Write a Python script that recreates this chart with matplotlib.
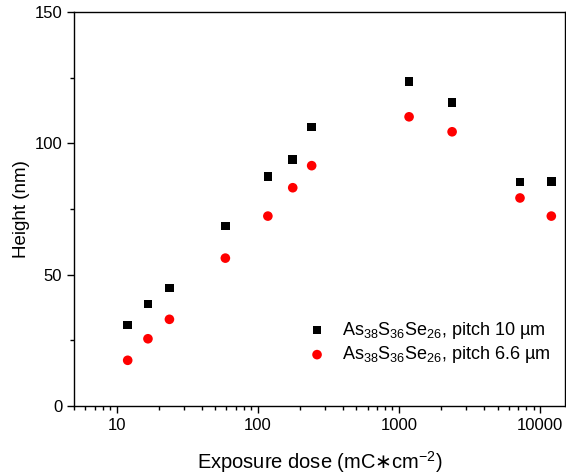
import matplotlib
matplotlib.use('Agg')
import matplotlib.pyplot as plt
from matplotlib.ticker import LogLocator, MultipleLocator, FixedLocator, NullFormatter
import matplotlib as mpl

mpl.rcParams.update({'font.family': ['Liberation Sans', 'DejaVu Sans'],
                     'mathtext.fontset': 'custom',
                     'mathtext.rm': 'Liberation Sans',
                     'mathtext.it': 'Liberation Sans:italic',
                     'mathtext.bf': 'Liberation Sans:bold',
                     'mathtext.sf': 'DejaVu Sans'})

# exposure dose (mC/cm^2)
dose = [12, 16.7, 23.7, 59, 118, 177, 241, 1180, 2380, 7200, 12000]
# height for pitch 10 um
height_10 = [30.8, 38.9, 44.9, 68.6, 87.4, 93.9, 106.2, 123.6, 115.6, 85.2, 85.5]
# height for pitch 6.6 um
height_66 = [17.4, 25.6, 33.0, 56.3, 72.3, 83.1, 91.5, 110.1, 104.4, 79.2, 72.3]

label_10 = r'As$_{38}$S$_{36}$Se$_{26}$, pitch 10 µm'
label_66 = r'As$_{38}$S$_{36}$Se$_{26}$, pitch 6.6 µm'

fig = plt.figure(figsize=(5.66, 4.76), dpi=100)
ax = fig.add_axes([74 / 566, 1 - 406 / 476, (565 - 74) / 566, (406 - 12) / 476])

ax.scatter(dose, height_10, marker='s', s=38, color='black', edgecolors='none', label=label_10, zorder=3)
ax.scatter(dose, height_66, marker='o', s=48, color='red', edgecolors='none', label=label_66, zorder=3)

ax.set_xscale('log')
ax.set_xlim(5, 15000)
ax.set_ylim(0, 150)

ax.xaxis.set_major_locator(FixedLocator([10, 100, 1000, 10000]))
ax.xaxis.set_minor_locator(LogLocator(base=10, subs=range(2, 10), numticks=20))
ax.xaxis.set_minor_formatter(NullFormatter())
ax.set_xticklabels(['10', '100', '1000', '10000'])
ax.yaxis.set_major_locator(MultipleLocator(50))
ax.yaxis.set_minor_locator(MultipleLocator(25))

ax.tick_params(which='major', direction='out', length=5, width=1, labelsize=12, top=False, right=False)
ax.tick_params(which='minor', direction='out', length=3, width=1, top=False, right=False)
for sp in ax.spines.values():
    sp.set_linewidth(1.0)

ax.set_xlabel(r'Exposure dose (mC$\mathsf{\ast}$cm$^{-2}$)', fontsize=14.5, labelpad=12)
ax.set_ylabel('Height (nm)', fontsize=13.5, labelpad=3)

ax.legend(loc='center left', bbox_to_anchor=(0.4766, 0.161), frameon=False, fontsize=13,
          borderpad=0, borderaxespad=0, handlelength=1.0, handletextpad=0.89,
          labelspacing=0.2, scatterpoints=1)

plt.savefig('out.png', dpi=100)
